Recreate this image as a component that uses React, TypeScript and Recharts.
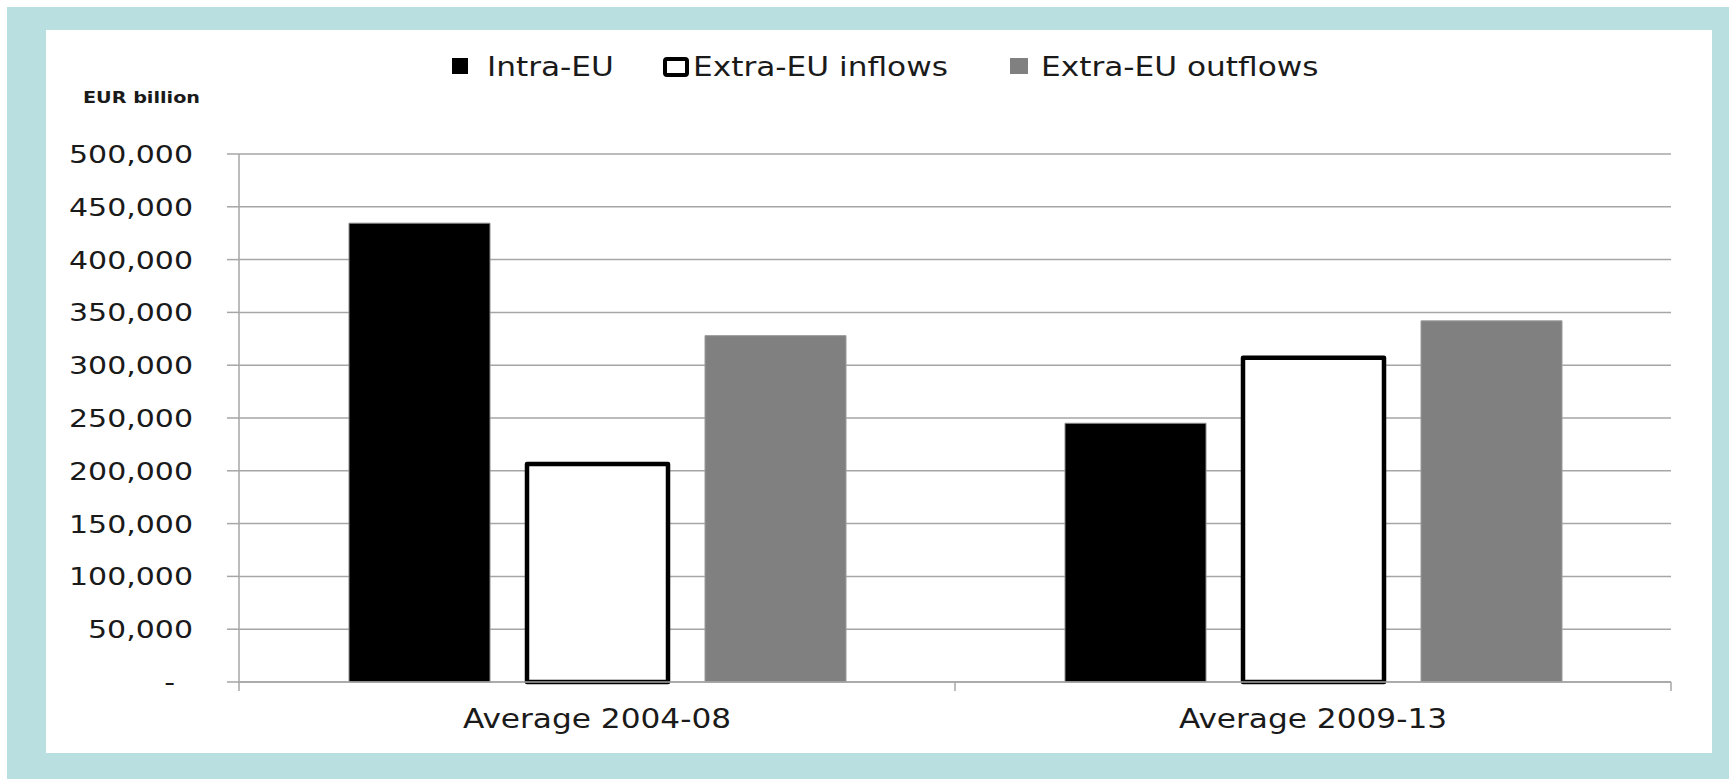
import React from "react";
import { BarChart, Bar, XAxis, YAxis, CartesianGrid } from "recharts";

// values (EUR billion, as labelled)
const periods = ["Average 2004-08", "Average 2009-13"];
const intraEU = [434500, 245000];
const extraInflows = [206500, 307000];
const extraOutflows = [328000, 342000];
const yTicks = [0, 50000, 100000, 150000, 200000, 250000, 300000, 350000, 400000, 450000, 500000];
const seriesNames = ["Intra-EU", "Extra-EU inflows", "Extra-EU outflows"];

const rows = periods.map((p, i) => ({
  period: p,
  intra: intraEU[i],
  inflows: extraInflows[i],
  outflows: extraOutflows[i],
}));

const FONT = "'DejaVu Sans', Verdana, sans-serif";
const TEXT = "#1a1a1a";
const GRID = "#a6a6a6";
const STRETCH = 1.2; // the original picture is stretched sideways

const YTick = (props: any) => {
  const { x, y, payload } = props;
  const zero = payload.value === 0;
  const label = zero ? "-" : payload.value.toLocaleString("en-US");
  const xr = zero ? x - 50 : x - 32;
  return (
    <text
      transform={`translate(${xr},${y + 9}) scale(${STRETCH},1)`}
      textAnchor="end"
      fontFamily={FONT}
      fontSize={25}
      fill={TEXT}
    >
      {label}
    </text>
  );
};

const XTick = (props: any) => {
  const { x, y, payload, index, width } = props;
  const half = width ? width / periods.length / 2 : 358;
  return (
    <g>
      {index === 0 && <line x1={x - half} x2={x - half} y1={y} y2={y + 9} stroke={GRID} strokeWidth={1.5} />}
      <line x1={x + half} x2={x + half} y1={y} y2={y + 9} stroke={GRID} strokeWidth={1.5} />
      <text
        transform={`translate(${x},${y + 46}) scale(${STRETCH},1)`}
        textAnchor="middle"
        fontFamily={FONT}
        fontSize={26}
        fill={TEXT}
      >
        {payload.value}
      </text>
    </g>
  );
};

// legend layout (x of swatch, x of text)
const legendItems = [
  { swatch: { x: 452, y: 58, w: 16, h: 16, fill: "#000", stroke: "none", sw: 0 }, tx: 487 },
  { swatch: { x: 665, y: 59, w: 22, h: 16, fill: "#fff", stroke: "#000", sw: 4 }, tx: 693 },
  { swatch: { x: 1010, y: 58, w: 18, h: 16, fill: "#808080", stroke: "none", sw: 0 }, tx: 1041 },
];

export default function App() {
  return (
    <div style={{ position: "fixed", left: 0, top: 0, width: 1729, height: 779, background: "#fff", overflow: "hidden" }}>
      <div style={{ position: "absolute", left: 7, top: 7, width: 1722, height: 772, background: "#badfe1" }} />
      <div style={{ position: "absolute", left: 46, top: 30, width: 1666, height: 723, background: "#fff" }} />

      <div style={{ position: "absolute", left: 0, top: 0 }}>
        <BarChart
          width={1729}
          height={779}
          data={rows}
          margin={{ top: 154, right: 58, bottom: 47, left: 0 }}
          barSize={141}
          barGap={37}
        >
          <CartesianGrid vertical={false} stroke={GRID} strokeWidth={1.5} />
          <XAxis
            dataKey="period"
            interval={0}
            height={50}
            tickSize={0}
            tickMargin={0}
            tickLine={false}
            axisLine={{ stroke: GRID, strokeWidth: 1.5 }}
            tick={<XTick />}
          />
          <YAxis
            width={239}
            domain={[0, 500000]}
            ticks={yTicks}
            interval={0}
            tickSize={12}
            tickLine={{ stroke: GRID, strokeWidth: 1.5 }}
            axisLine={{ stroke: GRID, strokeWidth: 1.5 }}
            tick={<YTick />}
          />
          <Bar dataKey="intra" name={seriesNames[0]} fill="#000" stroke="#8c8c8c" strokeWidth={1} isAnimationActive={false} />
          <Bar dataKey="inflows" name={seriesNames[1]} fill="#fff" stroke="#000" strokeWidth={4.5} strokeLinejoin="round" isAnimationActive={false} />
          <Bar dataKey="outflows" name={seriesNames[2]} fill="#808080" stroke="#9a9a9a" strokeWidth={1} isAnimationActive={false} />
        </BarChart>
      </div>

      {/* legend + unit label */}
      <svg width={1729} height={120} style={{ position: "absolute", left: 0, top: 0 }}>
        {legendItems.map((it, i) => (
          <g key={i}>
            <rect
              x={it.swatch.x}
              y={it.swatch.y}
              width={it.swatch.w}
              height={it.swatch.h}
              fill={it.swatch.fill}
              stroke={it.swatch.stroke}
              strokeWidth={it.swatch.sw}
              rx={it.swatch.sw ? 2 : 0}
            />
            <text
              transform={`translate(${it.tx},76) scale(${STRETCH},1)`}
              fontFamily={FONT}
              fontSize={26}
              fill={TEXT}
            >
              {seriesNames[i]}
            </text>
          </g>
        ))}
        <text
          transform={`translate(83,103) scale(${STRETCH},1)`}
          fontFamily={FONT}
          fontSize={16}
          fontWeight="bold"
          fill={TEXT}
        >
          EUR billion
        </text>
      </svg>
    </div>
  );
}
